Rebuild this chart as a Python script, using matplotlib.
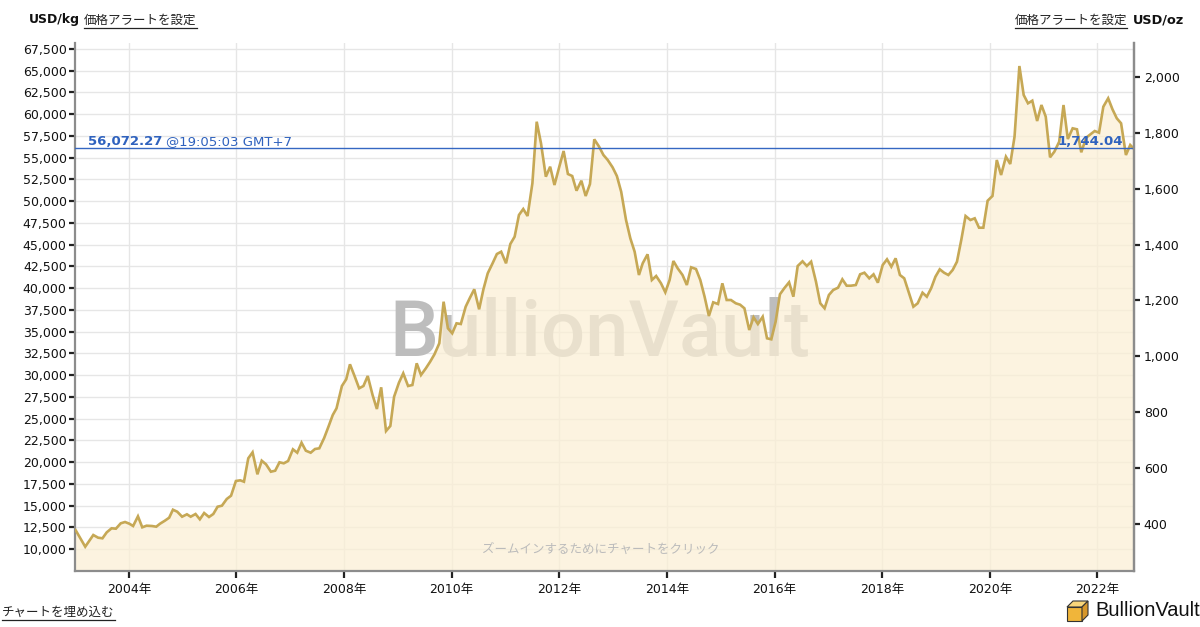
import numpy as np
import matplotlib
matplotlib.use('Agg')
import matplotlib.pyplot as plt
from matplotlib.patches import Polygon
from matplotlib.lines import Line2D

plt.rcParams['font.family'] = ['DejaVu Sans', 'Noto Sans CJK JP']

# gold price in USD/kg, x as decimal years
years_2003_2007 = [2003.01, 2003.19, 2003.34, 2003.43, 2003.51, 2003.59, 2003.68, 2003.76, 2003.85, 2003.93,
                   2004.01, 2004.08, 2004.17, 2004.25, 2004.33, 2004.43, 2004.51, 2004.58, 2004.67, 2004.75,
                   2004.82, 2004.90, 2004.99, 2005.08, 2005.15, 2005.24, 2005.32, 2005.40, 2005.49, 2005.57,
                   2005.65, 2005.73, 2005.82, 2005.90, 2005.99, 2006.07, 2006.14, 2006.22, 2006.30, 2006.39,
                   2006.47, 2006.55, 2006.64, 2006.72, 2006.80, 2006.88, 2006.96, 2007.05, 2007.13, 2007.21,
                   2007.29, 2007.38, 2007.46, 2007.54, 2007.63, 2007.71, 2007.79, 2007.86, 2007.96]
usd_kg_2003_2007 = [12185, 10265, 11610, 11300, 11230, 11920, 12380, 12335, 12955, 13105,
                    12910, 12645, 13760, 12495, 12680, 12645, 12565, 12910, 13255, 13600,
                    14520, 14290, 13715, 13990, 13715, 14025, 13415, 14140, 13680, 14025,
                    14865, 14980, 15750, 16130, 17820, 17900, 17740, 20430, 21120, 18590,
                    20155, 19740, 18890, 19005, 19970, 19855, 20120, 21465, 21075, 22225,
                    21305, 21075, 21500, 21580, 22765, 24065, 25410, 26180, 28745]

years_2008_2012 = [2008.04, 2008.11, 2008.20, 2008.28, 2008.36, 2008.44, 2008.53, 2008.61, 2008.69, 2008.78,
                   2008.86, 2008.93, 2009.02, 2009.10, 2009.19, 2009.27, 2009.35, 2009.43, 2009.52, 2009.60,
                   2009.68, 2009.77, 2009.85, 2009.93, 2010.01, 2010.09, 2010.17, 2010.26, 2010.34, 2010.42,
                   2010.51, 2010.59, 2010.67, 2010.76, 2010.84, 2010.92, 2011.01, 2011.09, 2011.17, 2011.25,
                   2011.33, 2011.41, 2011.50, 2011.58, 2011.66, 2011.75, 2011.83, 2011.91, 2012.00, 2012.08,
                   2012.16, 2012.24, 2012.32, 2012.41, 2012.49, 2012.57, 2012.65, 2012.74, 2012.82, 2012.90,
                   2012.99]
usd_kg_2008_2012 = [29515, 31240, 29815, 28480, 28745, 29895, 27710, 26100, 28595, 23570,
                    24145, 27515, 29125, 30205, 28745, 28860, 31355, 30010, 30780, 31540,
                    32390, 33655, 38440, 35380, 34805, 35955, 35875, 37865, 38900, 39865,
                    37565, 39865, 41705, 42855, 43925, 44190, 42855, 45075, 45915, 48410,
                    49100, 48295, 52055, 59140, 56655, 52815, 53965, 51860, 53965, 55770,
                    53125, 52895, 51205, 52355, 50595, 51975, 57115, 56265, 55310, 54735,
                    53895]

years_2013_2017 = [2013.07, 2013.15, 2013.24, 2013.32, 2013.40, 2013.48, 2013.55, 2013.64, 2013.72, 2013.80,
                   2013.89, 2013.97, 2014.05, 2014.12, 2014.20, 2014.29, 2014.37, 2014.45, 2014.54, 2014.62,
                   2014.70, 2014.78, 2014.86, 2014.95, 2015.03, 2015.11, 2015.19, 2015.28, 2015.36, 2015.44,
                   2015.53, 2015.61, 2015.69, 2015.78, 2015.86, 2015.94, 2016.02, 2016.10, 2016.18, 2016.27,
                   2016.35, 2016.43, 2016.52, 2016.60, 2016.68, 2016.77, 2016.85, 2016.93, 2017.01, 2017.09,
                   2017.18, 2017.26, 2017.34, 2017.42, 2017.51, 2017.59, 2017.67, 2017.76, 2017.84, 2017.92]
usd_kg_2013_2017 = [52895, 51090, 47835, 45730, 44190, 41510, 42855, 43890, 40935, 41395,
                    40555, 39520, 40935, 43120, 42280, 41510, 40360, 42395, 42200, 40935,
                    39015, 36795, 38370, 38175, 40555, 38635, 38635, 38255, 38095, 37680,
                    35185, 36645, 35875, 36715, 34230, 34115, 36140, 39290, 39980, 40670,
                    39015, 42545, 43085, 42545, 43040, 40740, 38255, 37680, 39210, 39785,
                    40050, 41015, 40280, 40280, 40360, 41590, 41775, 41130, 41590, 40625]

years_2018_2022 = [2018.01, 2018.09, 2018.17, 2018.25, 2018.33, 2018.41, 2018.50, 2018.58, 2018.66, 2018.75,
                   2018.83, 2018.91, 2018.99, 2019.07, 2019.15, 2019.23, 2019.31, 2019.39, 2019.47, 2019.55,
                   2019.64, 2019.72, 2019.80, 2019.88, 2019.96, 2020.05, 2020.13, 2020.21, 2020.30, 2020.38,
                   2020.46, 2020.55, 2020.63, 2020.71, 2020.79, 2020.88, 2020.96, 2021.04, 2021.12, 2021.20,
                   2021.29, 2021.37, 2021.45, 2021.54, 2021.62, 2021.70, 2021.79, 2021.87, 2021.95, 2022.03,
                   2022.11, 2022.20, 2022.28, 2022.36, 2022.44, 2022.53, 2022.61, 2022.67]
usd_kg_2018_2022 = [42660, 43315, 42465, 43430, 41510, 41130, 39405, 37865, 38255, 39475,
                    39015, 39980, 41315, 42165, 41775, 41510, 42085, 43040, 45535, 48295,
                    47835, 48030, 46950, 46950, 50055, 50595, 54735, 53010, 55115, 54275,
                    57415, 65545, 62210, 61255, 61555, 59220, 61060, 59715, 55045, 55690,
                    56840, 61060, 57150, 58380, 58265, 55620, 57300, 57690, 58070, 57875,
                    60865, 61830, 60565, 59530, 58955, 55310, 56460, 56080]

current_kg = 56072.27
current_oz = 1744.04
price_time = '@19:05:03 GMT+7'
kg_ticks = list(range(10000, 67501, 2500))
oz_ticks = list(range(400, 2001, 200))
year_ticks = list(range(2004, 2023, 2))
OZ_PER_KG = 32.1507

years = np.array(years_2003_2007 + years_2008_2012 + years_2013_2017 + years_2018_2022)
prices = np.array(usd_kg_2003_2007 + usd_kg_2008_2012 + usd_kg_2013_2017 + usd_kg_2018_2022)

W, H = 1200, 627
fig = plt.figure(figsize=(12, 6.27), dpi=100)
ax = fig.add_axes([75 / W, 1 - 570.7 / H, 1059 / W, 528 / H])

ylo, yhi = 7505, 68225
ax.set_xlim(2003.0, 2022.68)
ax.set_ylim(ylo, yhi)

ax.set_axisbelow(True)
ax.grid(True, color='#E6E6E6', lw=1)

# watermark sits under the fill, so it only shows faintly inside the area
ax.text(0.496, 0.448, 'BullionVault', transform=ax.transAxes, ha='center', va='center',
        fontsize=56, family=['Roboto', 'DejaVu Sans'], weight='medium', color='#BDBDBD', zorder=1.5)

ax.fill_between(years, prices, ylo, color='#FBEFD4', alpha=0.72, lw=0, zorder=2)
ax.plot(years, prices, color='#C6A855', lw=1.9, zorder=3, solid_joinstyle='miter')
ax.axhline(current_kg, color='#3567C2', lw=1, zorder=4)

ax.set_yticks(kg_ticks)
ax.set_yticklabels(['{:,}'.format(v) for v in kg_ticks])
ax.set_xticks(year_ticks)
ax.set_xticklabels(['{}年'.format(y) for y in year_ticks])
ax.tick_params(axis='y', length=4, width=1.6, color='#222222', labelsize=9, pad=2, labelcolor='#111111')
ax.tick_params(axis='x', length=5, width=1.6, color='#222222', labelsize=9, pad=4, labelcolor='#111111')

for side in ['left', 'bottom', 'right']:
    ax.spines[side].set_color('#8C8C8C')
    ax.spines[side].set_linewidth(1.6)
ax.spines['top'].set_visible(False)

ax2 = ax.twinx()
ax2.set_ylim(ylo / OZ_PER_KG, yhi / OZ_PER_KG)
ax2.set_yticks(oz_ticks)
ax2.set_yticklabels(['{:,}'.format(v) for v in oz_ticks])
ax2.tick_params(axis='y', length=4, width=1.6, color='#222222', labelsize=9, pad=3, labelcolor='#111111')
for side in ['left', 'bottom', 'top']:
    ax2.spines[side].set_visible(False)
ax2.spines['right'].set_color('#8C8C8C')
ax2.spines['right'].set_linewidth(1.6)

renderer = fig.canvas.get_renderer()

# current price labels on the blue line
lbl = ax.text(2003.24, current_kg, '{:,.2f}'.format(current_kg), color='#2F62BE', fontsize=9.5,
              weight='bold', va='bottom', ha='left', zorder=5)
bb = lbl.get_window_extent(renderer)
fig.text((bb.x1 + 4) / W, bb.y0 / H, price_time, color='#2F62BE', fontsize=9.5, va='bottom', ha='left')
ax.text(2022.48, current_kg, '{:,.2f}'.format(current_oz), color='#2F62BE', fontsize=9.5,
        weight='bold', va='bottom', ha='right', zorder=5)

ax.text(0.496, 0.04, 'ズームインするためにチャートをクリック', transform=ax.transAxes, ha='center',
        va='center', fontsize=9, color='#BBBBBB', zorder=5)


def underline(t):
    b = t.get_window_extent(renderer)
    fig.add_artist(Line2D([b.x0 / W, b.x1 / W], [(b.y0 - 1) / H] * 2, transform=fig.transFigure,
                          color='#222222', lw=0.9))


fig.text(29 / W, 1 - 20 / H, 'USD/kg', fontsize=9, weight='bold', va='center', ha='left', color='#111111')
t1 = fig.text(84 / W, 1 - 20 / H, '価格アラートを設定', fontsize=9, va='center', ha='left', color='#222222')
t2 = fig.text(1127 / W, 1 - 20 / H, '価格アラートを設定', fontsize=9, va='center', ha='right', color='#222222')
fig.text(1133 / W, 1 - 20 / H, 'USD/oz', fontsize=9.3, weight='bold', va='center', ha='left', color='#111111')
t3 = fig.text(2 / W, 1 - 612 / H, 'チャートを埋め込む', fontsize=9, va='center', ha='left', color='#222222')
for t in (t1, t2, t3):
    underline(t)

# BullionVault logo bottom right
def px(pts):
    return [(x / W, 1 - y / H) for x, y in pts]


fig.add_artist(Polygon(px([(1067, 607), (1082, 607), (1082, 621), (1067, 621)]), closed=True,
                       transform=fig.transFigure, fc='#F0B53A', ec='#333333', lw=0.8))
fig.add_artist(Polygon(px([(1067, 607), (1073, 601), (1088, 601), (1082, 607)]), closed=True,
                       transform=fig.transFigure, fc='#F8D57A', ec='#333333', lw=0.8))
fig.add_artist(Polygon(px([(1082, 607), (1088, 601), (1088, 615), (1082, 621)]), closed=True,
                       transform=fig.transFigure, fc='#D6962A', ec='#333333', lw=0.8))
fig.text(1095 / W, 1 - 611 / H, 'BullionVault', fontsize=14.5, family=['Liberation Sans', 'DejaVu Sans'],
         va='center', ha='left', color='#111111')

fig.savefig('out.png', dpi=100, facecolor='white')
